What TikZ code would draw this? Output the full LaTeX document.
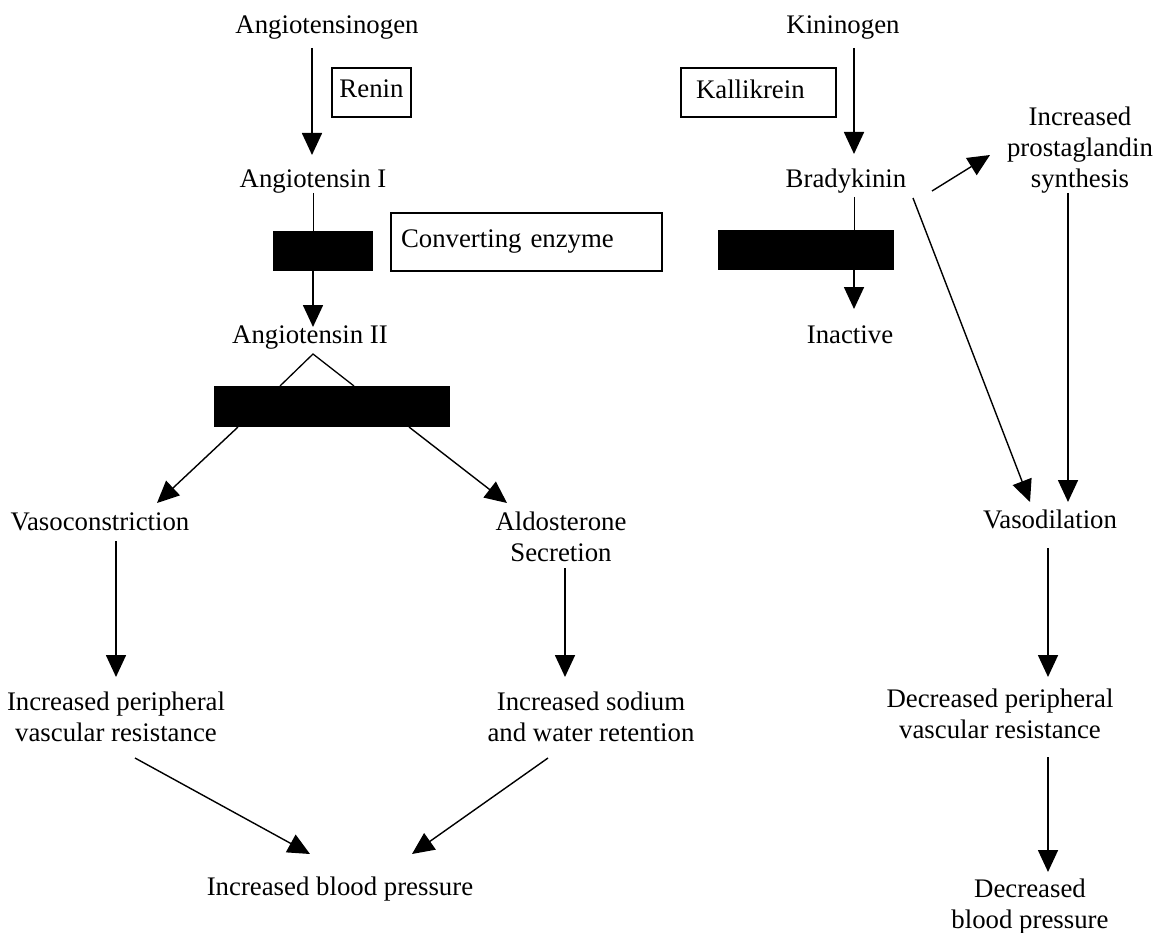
\documentclass[tikz,border=0pt]{standalone}
\usepackage{fontspec}
\setmainfont{Liberation Serif}
\usetikzlibrary{arrows.meta}
\begin{document}
\begin{tikzpicture}[x=1pt,y=-1pt,
  lbl/.style={font=\fontsize{26.8}{31}\selectfont, inner sep=0pt, align=center, anchor=base},
  ebox/.style={draw, line width=1.3pt, font=\fontsize{26.8}{31}\selectfont, inner ysep=0pt, text depth=7pt, align=left},
  blk/.style={fill=black, draw=none, inner sep=0pt},
  arr/.style={line width=1.7pt, -{Triangle[width=20pt,length=22pt]}},
  darr/.style={line width=1.4pt, -{Triangle[width=20pt,length=22pt]}},
  thinl/.style={line width=1pt}]
\fill[white] (0,0) rectangle (1158,933);
\useasboundingbox (0,0) rectangle (1158,933);

% ---- text nodes (anchor = baseline of last line) ----
\node[lbl] (agen) at (327,34) {Angiotensinogen};
\node[lbl] (kgen) at (843,34) {Kininogen};
\node[ebox, minimum width=79pt, minimum height=49pt, inner xsep=0pt, align=center] (renin) at (371.5,92.5) {Renin};
\node[ebox, minimum width=155pt, minimum height=49pt, inner xsep=15pt, text width=125pt] (kall) at (758.5,92.5) {Kallikrein};
\node[lbl] (a1) at (313,188) {Angiotensin I};
\node[lbl] (brady) at (846,188) {Bradykinin};
\node[lbl] (prost) at (1080,188) {Increased\\prostaglandin\\synthesis};
\node[ebox, minimum width=271pt, minimum height=58pt, inner xsep=10pt, text width=251pt] (ce) at (526.5,242) {Converting enzyme};

\node[blk, minimum width=100pt, minimum height=40pt] (bar1) at (323,251) {};
\node[blk, minimum width=176pt, minimum height=40pt] (bar2) at (806,250) {};
\node[blk, minimum width=236pt, minimum height=41pt] (bar3) at (332,406.5) {};

\node[lbl] (a2) at (310,343) {Angiotensin II};
\node[lbl] (inact) at (850,343) {Inactive};
\node[lbl] (vc) at (100,530) {Vasoconstriction};
\node[lbl] (ald) at (561,561) {Aldosterone\\Secretion};
\node[lbl] (vd) at (1050,528) {Vasodilation};
\node[lbl] (ipvr) at (116,741) {Increased peripheral\\vascular resistance};
\node[lbl] (isw) at (591,741) {Increased sodium\\and water retention};
\node[lbl] (dpvr) at (1000,738) {Decreased peripheral\\vascular resistance};
\node[lbl] (ibp) at (340,895) {Increased blood pressure};
\node[lbl] (dbp) at (1030,928) {Decreased\\blood pressure};

% ---- connector end points ----
\coordinate (agen-o) at (312,48);   \coordinate (a1-i) at (312,155);
\coordinate (kgen-o) at (854,48);   \coordinate (brady-i) at (854,154);
\coordinate (a1-o) at (313,193);    \coordinate (bar1-t) at (313,231);
\coordinate (bar1-b) at (313,271);  \coordinate (a2-i) at (313,327);
\coordinate (brady-o) at (854,197); \coordinate (bar2-t) at (854,230);
\coordinate (bar2-b) at (854,270);  \coordinate (inact-i) at (854,309);
\coordinate (brady-r) at (932,191); \coordinate (prost-i) at (990,155);
\coordinate (brady-d) at (913,198); \coordinate (vd-i1) at (1030,502);
\coordinate (prost-o) at (1068,193); \coordinate (vd-i2) at (1068,502);
\coordinate (a2-apex) at (313,354); \coordinate (bar3-l) at (280,386); \coordinate (bar3-r) at (354,386);
\coordinate (bar3-bl) at (238,427); \coordinate (vc-i) at (157,503);
\coordinate (bar3-br) at (409,427); \coordinate (ald-i) at (507,503);
\coordinate (vc-o) at (116,541);    \coordinate (ipvr-i) at (116,677);
\coordinate (ald-o) at (565,568);   \coordinate (isw-i) at (565,677);
\coordinate (vd-o) at (1048,548);   \coordinate (dpvr-i) at (1048,677);
\coordinate (dpvr-o) at (1048,757); \coordinate (dbp-i) at (1048,872);
\coordinate (ipvr-o) at (135,758);  \coordinate (ibp-i1) at (310,854);
\coordinate (isw-o) at (548,758);   \coordinate (ibp-i2) at (412,854);

% ---- connectors ----
\draw[arr] (agen-o) -- (a1-i);
\draw[arr] (kgen-o) -- (brady-i);
\draw[thinl] (a1-o) -- (bar1-t);
\draw[arr] (bar1-b) -- (a2-i);
\draw[thinl] (brady-o) -- (bar2-t);
\draw[arr] (bar2-b) -- (inact-i);
\draw[darr] (brady-r) -- (prost-i);
\draw[darr] (brady-d) -- (vd-i1);
\draw[arr] (prost-o) -- (vd-i2);
\draw[line width=1.3pt] (bar3-l) -- (a2-apex) -- (bar3-r);
\draw[darr] (bar3-bl) -- (vc-i);
\draw[darr] (bar3-br) -- (ald-i);
\draw[arr] (vc-o) -- (ipvr-i);
\draw[arr] (ald-o) -- (isw-i);
\draw[arr] (vd-o) -- (dpvr-i);
\draw[arr] (dpvr-o) -- (dbp-i);
\draw[darr] (ipvr-o) -- (ibp-i1);
\draw[darr] (isw-o) -- (ibp-i2);
\end{tikzpicture}
\end{document}
